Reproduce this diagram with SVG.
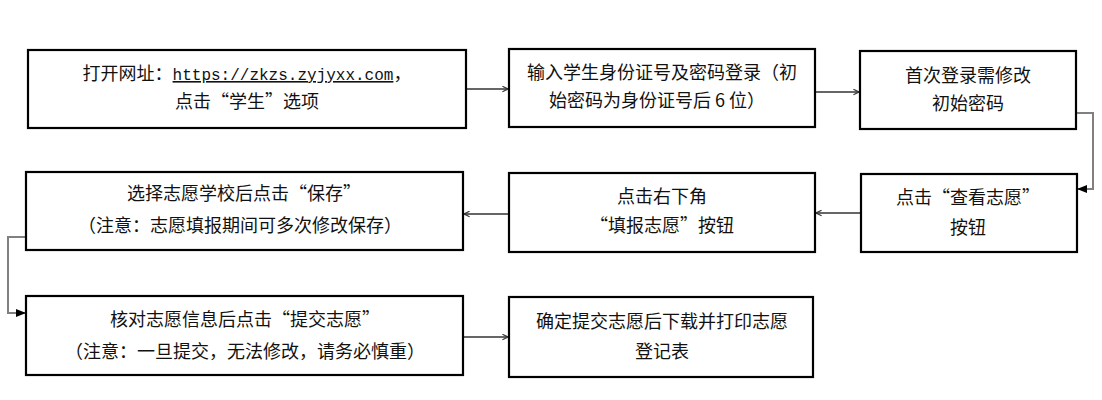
<svg xmlns="http://www.w3.org/2000/svg" width="1102" height="400" viewBox="0 0 1102 400">
<style>
.box{fill:#fff;stroke:#000;stroke-width:2.2}
.t{font-family:"Noto Sans CJK SC","Noto Sans",sans-serif;font-size:18px;fill:#111;text-anchor:middle}
.url{font-family:"Liberation Mono",monospace;font-size:16px;text-decoration:underline}
.a{fill:none;stroke:#333;stroke-width:1.6}
.e{fill:none;stroke:#808080;stroke-width:2}
</style>
<defs>
<marker id="ah" viewBox="0 0 10 10" refX="9" refY="5" markerWidth="7" markerHeight="7" markerUnits="userSpaceOnUse" orient="auto">
<path d="M1,1 L9,5 L1,9" fill="none" stroke="#333" stroke-width="1.6"/>
</marker>
<marker id="fh" viewBox="0 0 10 10" refX="9" refY="5" markerWidth="10" markerHeight="10" markerUnits="userSpaceOnUse" orient="auto">
<path d="M0,1 L10,5 L0,9 Z" fill="#000"/>
</marker>
</defs>
<rect width="1102" height="400" fill="#fff"/>
<g id="connectors">
<line class="a" x1="466" y1="89" x2="508" y2="89" marker-end="url(#ah)"/>
<line class="a" x1="815" y1="92" x2="859" y2="92" marker-end="url(#ah)"/>
<polyline class="e" points="1076,113 1093,113 1093,189 1078,189" marker-end="url(#fh)"/>
<line class="a" x1="861" y1="213" x2="816" y2="213" marker-end="url(#ah)"/>
<line class="a" x1="508" y1="214" x2="464" y2="214" marker-end="url(#ah)"/>
<polyline class="e" points="26,237 8,237 8,313 25,313" marker-end="url(#fh)"/>
<line class="a" x1="464" y1="337" x2="508" y2="337" marker-end="url(#ah)"/>
</g>
<g id="n1">
<rect class="box" x="28" y="50" width="438" height="78"/>
<text class="t" x="247" y="80">打开网址：<tspan class="url">https://zkzs.zyjyxx.com</tspan>，</text>
<text class="t" x="247" y="108">点击“学生”选项</text>
</g>
<g id="n2">
<rect class="box" x="509" y="49" width="306" height="78"/>
<text class="t" x="662" y="79">输入学生身份证号及密码登录（初</text>
<text class="t" x="657" y="107">始密码为身份证号后 6 位）</text>
</g>
<g id="n3">
<rect class="box" x="860" y="51" width="216" height="78"/>
<text class="t" x="968" y="82">首次登录需修改</text>
<text class="t" x="968" y="110">初始密码</text>
</g>
<g id="n4">
<rect class="box" x="861" y="174" width="216" height="78"/>
<text class="t" x="968" y="204">点击“查看志愿”</text>
<text class="t" x="968" y="234">按钮</text>
</g>
<g id="n5">
<rect class="box" x="509" y="173" width="306" height="79"/>
<text class="t" x="662" y="203">点击右下角</text>
<text class="t" x="662" y="232">“填报志愿”按钮</text>
</g>
<g id="n6">
<rect class="box" x="26" y="172" width="437" height="78"/>
<text class="t" x="244" y="200">选择志愿学校后点击“保存”</text>
<text class="t" x="240" y="232">（注意：志愿填报期间可多次修改保存）</text>
</g>
<g id="n7">
<rect class="box" x="26" y="296" width="437" height="79"/>
<text class="t" x="245" y="326">核对志愿信息后点击“提交志愿”</text>
<text class="t" x="245" y="358">（注意：一旦提交，无法修改，请务必慎重）</text>
</g>
<g id="n8">
<rect class="box" x="509" y="297" width="304" height="80"/>
<text class="t" x="662" y="328">确定提交志愿后下载并打印志愿</text>
<text class="t" x="662" y="358">登记表</text>
</g>
</svg>
